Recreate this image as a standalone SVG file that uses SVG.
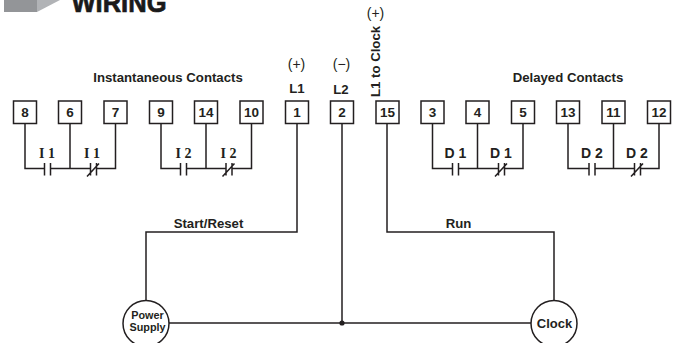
<svg xmlns="http://www.w3.org/2000/svg" width="677" height="343" viewBox="0 0 677 343">
<style>
text{font-family:"Liberation Sans",Arial,sans-serif;font-weight:700;fill:#231f20;text-anchor:middle}
.box rect{fill:#fff;stroke:#231f20;stroke-width:1.5}
.box text{font-size:13.5px}
.w{fill:none;stroke:#231f20;stroke-width:1.5}
.h{font-size:13.2px}
.s{font-size:14px;font-weight:400}
.i{font-family:"Liberation Serif","Times New Roman",serif;font-size:14px}
.d{font-size:14px}
.c{fill:#fff;stroke:#231f20;stroke-width:1.5}
</style>
<defs>
<path id="no" class="w" d="M0-6V6.500M6-6V6.500"/>
<path id="nc" class="w" d="M0-6V6.500M6-6V6.500M-3.500 7.500L8.500-5.500"/>
</defs>
<g id="title">
<rect x="4" y="0" width="33" height="12" fill="#939598"/>
<polygon points="37,0 60,0 37,12" fill="#b1b3b6"/>
<text x="119" y="12" style="font-family:'Liberation Sans Narrow','Liberation Sans',sans-serif;font-size:28px;font-weight:700;fill:#1a1a1a;stroke:#1a1a1a;stroke-width:.7" textLength="95" lengthAdjust="spacingAndGlyphs">WIRING</text>
</g>
<g id="connectors">
<path class="w" d="M25 123V168.500H44.500M50.500 168.500H90.500M70 123V168.500M96.500 168.500H115.500V123"/>
<path class="w" d="M161 123V168.500H180.500M186.500 168.500H226M206 123V168.500M232 168.500H251.500V123"/>
<path class="w" d="M432.500 123V168.500H452.500M458.500 168.500H498.500M477.500 123V168.500M504.500 168.500H523V123"/>
<path class="w" d="M568 123V168.500H589M595 168.500H634.500M613.500 123V168.500M640.500 168.500H659V123"/>
<use href="#no" x="44.500" y="169"/><use href="#nc" x="90.500" y="169"/>
<use href="#no" x="180.500" y="169"/><use href="#nc" x="226" y="169"/>
<use href="#no" x="452.500" y="169"/><use href="#nc" x="498.500" y="169"/>
<use href="#no" x="589" y="169"/><use href="#nc" x="634.500" y="169"/>
<path class="w" d="M297 123V232H146V300M342 123V323M387 123V232H554V300M169 323H531"/>
<circle cx="342" cy="323" r="2.600" fill="#231f20"/>
</g>
<g id="labels">
<text class="h" x="168" y="82">Instantaneous Contacts</text>
<text class="h" x="568" y="82">Delayed Contacts</text>
<text class="s" x="296.500" y="69">(+)</text>
<text class="s" x="341.500" y="69">(−)</text>
<text class="s" x="375.500" y="18">(+)</text>
<text class="h" x="297" y="93">L1</text>
<text class="h" x="341" y="94">L2</text>
<text class="h" transform="translate(380 97) rotate(-90)" style="text-anchor:start">L1 to Clock</text>
<text class="h" x="208.500" y="228">Start/Reset</text>
<text class="h" x="458.500" y="228">Run</text>
<text class="i" x="47" y="158">I 1</text><text class="i" x="92" y="158">I 1</text>
<text class="i" x="183.500" y="158">I 2</text><text class="i" x="228.500" y="158">I 2</text>
<text class="d" x="455.500" y="158">D 1</text><text class="d" x="501" y="158">D 1</text>
<text class="d" x="592" y="158">D 2</text><text class="d" x="637" y="158">D 2</text>
</g>
<g id="n8" class="box"><rect x="13.500" y="101" width="23" height="22.500"/><text x="25" y="117">8</text></g>
<g id="n6" class="box"><rect x="58.500" y="101" width="23" height="22.500"/><text x="70" y="117">6</text></g>
<g id="n7" class="box"><rect x="104" y="101" width="23" height="22.500"/><text x="115.500" y="117">7</text></g>
<g id="n9" class="box"><rect x="149.500" y="101" width="23" height="22.500"/><text x="161" y="117">9</text></g>
<g id="n14" class="box"><rect x="194.500" y="101" width="23" height="22.500"/><text x="206" y="117">14</text></g>
<g id="n10" class="box"><rect x="240" y="101" width="23" height="22.500"/><text x="251.500" y="117">10</text></g>
<g id="n1" class="box"><rect x="285.500" y="101" width="23" height="22.500"/><text x="297" y="117">1</text></g>
<g id="n2" class="box"><rect x="330.500" y="101" width="23" height="22.500"/><text x="342" y="117">2</text></g>
<g id="n15" class="box"><rect x="376" y="101" width="23" height="22.500"/><text x="387.500" y="117">15</text></g>
<g id="n3" class="box"><rect x="421" y="101" width="23" height="22.500"/><text x="432.500" y="117">3</text></g>
<g id="n4" class="box"><rect x="466" y="101" width="23" height="22.500"/><text x="477.500" y="117">4</text></g>
<g id="n5" class="box"><rect x="511.500" y="101" width="23" height="22.500"/><text x="523" y="117">5</text></g>
<g id="n13" class="box"><rect x="556.500" y="101" width="23" height="22.500"/><text x="568" y="117">13</text></g>
<g id="n11" class="box"><rect x="602" y="101" width="23" height="22.500"/><text x="613.500" y="117">11</text></g>
<g id="n12" class="box"><rect x="647.500" y="101" width="23" height="22.500"/><text x="659" y="117">12</text></g>
<g id="power"><circle class="c" cx="146" cy="323.500" r="23"/><text x="147.500" y="319" style="font-size:10.800px">Power</text><text x="147.500" y="331" style="font-size:10.800px">Supply</text></g>
<g id="clock"><circle class="c" cx="554" cy="323.500" r="23"/><text x="554.500" y="327.500" style="font-size:13px">Clock</text></g>
</svg>
